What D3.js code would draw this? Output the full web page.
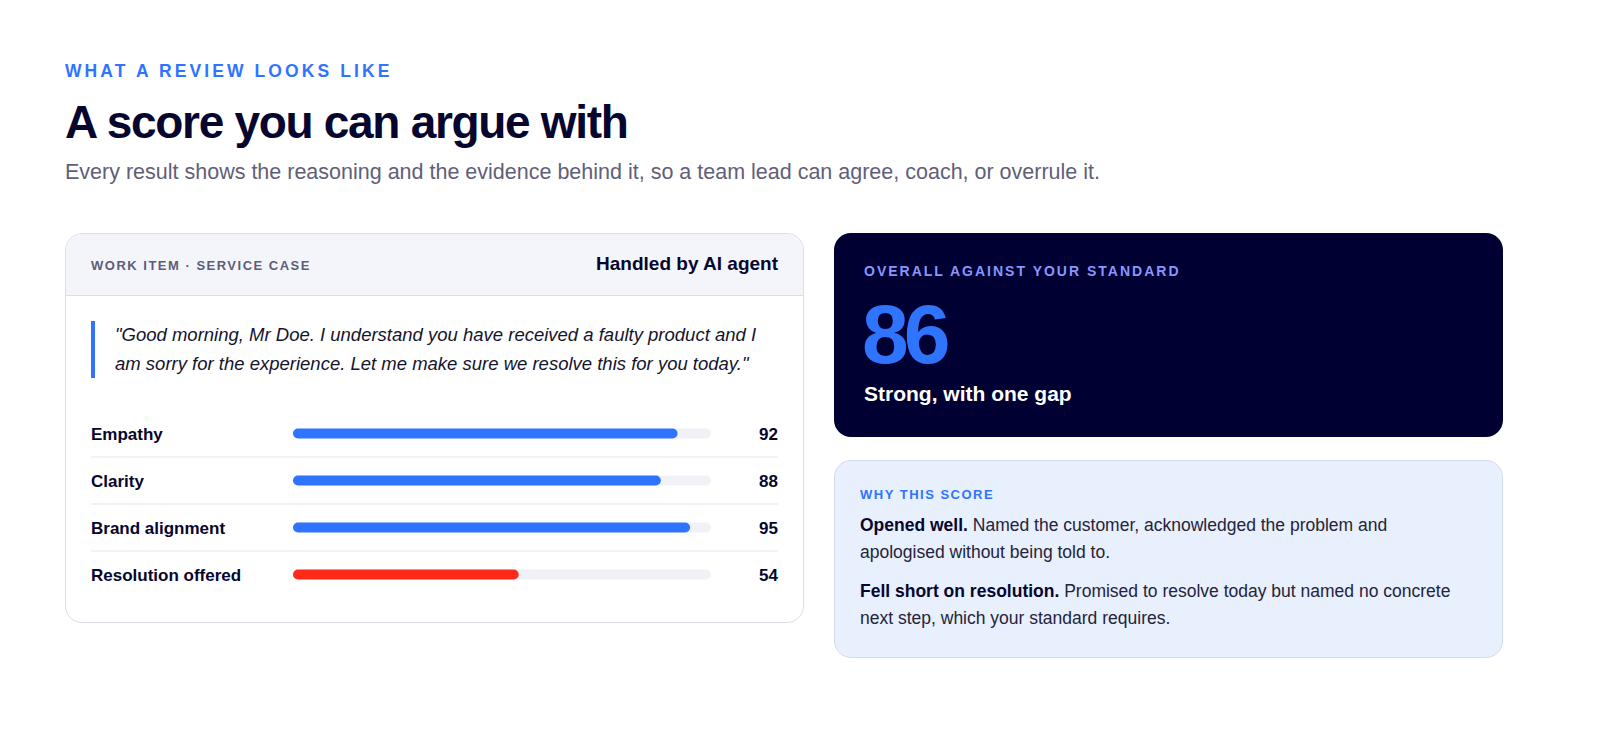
<!DOCTYPE html>
<html><head><meta charset="utf-8">
<script src="https://cdn.jsdelivr.net/npm/d3@7"></script>
<style>
body{margin:0;background:#fff;font-family:"Liberation Sans",Arial,sans-serif;width:1600px;height:733px;position:relative;overflow:hidden}
.abs{position:absolute}
.eyebrow{left:65px;top:61px;font-size:17.5px;font-weight:700;letter-spacing:3.1px;color:#2f74ff}
h1{position:absolute;left:65px;top:96px;margin:0;font-size:46px;font-weight:700;letter-spacing:-1.3px;color:#06062e;line-height:52px}
.sub{left:65px;top:160px;font-size:21.5px;color:#5f6078}
.card{left:65px;top:233px;width:737px;height:388px;border:1px solid #dcdde6;border-radius:17px;overflow:hidden;background:#fff}
.head{height:61px;background:#f4f5fa;border-bottom:1px solid #dcdde6;position:relative}
.dark{left:834px;top:233px;width:669px;height:204px;background:#000033;border-radius:17px}
.light{left:834px;top:460px;width:667px;height:196px;background:#e8effd;border:1px solid #d3dcef;border-radius:17px}
.p{position:absolute;left:25px;width:600px;font-size:17.5px;line-height:27px;color:#24243a}
</style></head><body>
<div class="abs eyebrow">WHAT A REVIEW LOOKS LIKE</div>
<h1>A score you can argue with</h1>
<div class="abs sub">Every result shows the reasoning and the evidence behind it, so a team lead can agree, coach, or overrule it.</div>
<div class="abs card">
 <div class="head">
  <div class="abs" style="left:25px;top:24px;font-size:13px;font-weight:700;letter-spacing:1.5px;color:#5c5d78">WORK ITEM · SERVICE CASE</div>
  <div class="abs" style="right:25px;top:19px;font-size:19px;font-weight:700;color:#06062e">Handled by AI agent</div>
 </div>
 <div class="abs" style="left:25px;top:87px;width:4px;height:57px;background:#2f74ff"></div>
 <div class="abs" style="left:49px;top:86px;width:670px;font-size:18.5px;font-style:italic;line-height:29px;color:#14142e">"Good morning, Mr Doe. I understand you have received a faulty product and I am sorry for the experience. Let me make sure we resolve this for you today."</div>
</div>
<svg id="bars" class="abs" style="left:0;top:0" width="1600" height="733"></svg>
<div class="abs dark">
 <div class="abs" style="left:30px;top:30px;font-size:14px;font-weight:700;letter-spacing:2px;color:#8a95ff">OVERALL AGAINST YOUR STANDARD</div>
 <div class="abs" style="left:28px;top:56px;font-size:84px;font-weight:700;letter-spacing:-5px;color:#2f74ff;line-height:90px">86</div>
 <div class="abs" style="left:30px;top:149px;font-size:21px;font-weight:700;color:#fff">Strong, with one gap</div>
</div>
<div class="abs light">
 <div class="abs" style="left:25px;top:26px;font-size:13px;font-weight:700;letter-spacing:1.5px;color:#2f74ff">WHY THIS SCORE</div>
 <div class="p" style="top:51px"><b style="color:#06062e">Opened well.</b> Named the customer, acknowledged the problem and<br>apologised without being told to.</div>
 <div class="p" style="top:117px"><b style="color:#06062e">Fell short on resolution.</b> Promised to resolve today but named no concrete<br>next step, which your standard requires.</div>
</div>
<script>
const categories=["Empathy","Clarity","Brand alignment","Resolution offered"];
const scores=[92,88,95,54];
const flagged=[false,false,false,true];
const svg=d3.select("#bars");
const x=d3.scaleLinear().domain([0,100]).range([293,711]);
const y=d3.scaleBand().domain(categories).range([410,598]);
const g=svg.selectAll("g").data(categories).join("g").attr("transform",d=>`translate(0,${y(d)+y.bandwidth()/2})`);
g.append("text").attr("x",91).attr("y",6).text(d=>d).attr("font-size",17).attr("font-weight",700).attr("fill","#06062e");
g.append("rect").attr("x",x(0)).attr("y",-5).attr("height",10).attr("rx",5).attr("width",x(100)-x(0)).attr("fill","#f1f2f8");
g.append("rect").attr("x",x(0)).attr("y",-5).attr("height",10).attr("rx",5).attr("width",(d,i)=>x(scores[i])-x(0)).attr("fill",(d,i)=>flagged[i]?"#ff2a1a":"#2f74ff");
g.append("text").attr("x",778).attr("y",6).attr("text-anchor","end").text((d,i)=>scores[i]).attr("font-size",17).attr("font-weight",700).attr("fill","#06062e");
g.filter((d,i)=>i<categories.length-1).append("line").attr("x1",91).attr("x2",778).attr("y1",y.bandwidth()/2).attr("y2",y.bandwidth()/2).attr("stroke","#e4e5ec");
</script>
</body></html>
